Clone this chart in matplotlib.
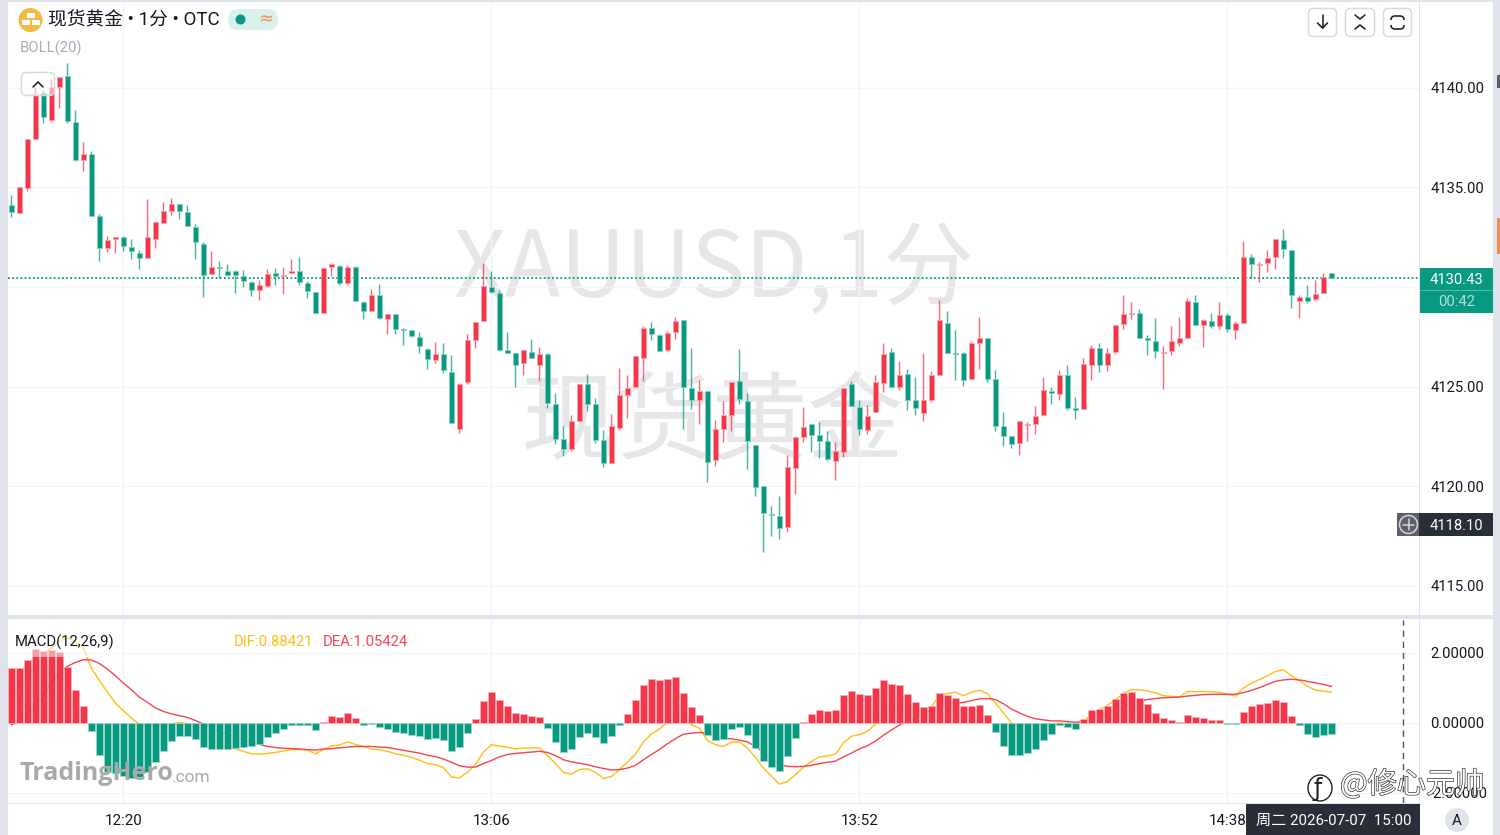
import matplotlib
matplotlib.use("Agg")
import matplotlib.pyplot as plt
import matplotlib.patheffects as pe
from matplotlib.patches import Rectangle, Circle, FancyBboxPatch, Ellipse

plt.rcParams['font.family'] = ['Roboto', 'Noto Sans CJK SC', 'DejaVu Sans']

# ---------- data ----------
opens = [
4134.09,4133.72,4134.97,4137.44,4139.75,4138.38,4140.05,4140.57,4138.26,4136.37,
4136.65,4133.57,4131.93,4132.38,4132.53,4131.99,4131.71,4131.46,4132.38,4133.22,
4133.80,4134.14,4133.74,4133.03,4132.16,4130.64,4131.02,4130.80,4130.79,4130.54,
4130.25,4129.83,4130.03,4130.69,4130.54,4130.70,4130.80,4130.18,4129.72,4128.71,
4131.00,4131.07,4130.20,4131.00,4129.25,4128.78,4129.57,4128.38,4128.65,4127.89,
4127.83,4127.51,4126.87,4126.34,4126.61,4125.74,4122.89,4125.22,4127.32,4128.28,
4130.00,4129.70,4126.84,4126.66,4126.17,4126.74,4126.10,4126.62,4124.11,4122.34,
4121.84,4123.28,4125.13,4124.13,4122.33,4121.17,4122.91,4124.57,4125.00,4126.41,
4127.93,4127.59,4126.81,4127.74,4128.34,4124.93,4124.33,4124.77,4121.29,4122.88,
4123.56,4125.30,4124.25,4122.06,4120.03,4118.60,4118.48,4117.93,4120.90,4122.48,
4123.14,4122.56,4122.26,4121.25,4121.72,4125.12,4123.96,4122.84,4123.70,4125.20,
4126.71,4125.00,4125.64,4124.33,4123.65,4124.33,4125.60,4128.21,4126.69,4126.67,
4125.37,4127.19,4127.44,4125.37,4123.00,4122.50,4122.18,4123.07,4123.12,4123.58,
4124.78,4124.63,4125.60,4123.90,4123.88,4126.07,4126.95,4126.08,4126.75,4128.12,
4128.65,4128.70,4127.42,4127.28,4126.70,4126.80,4127.20,4127.43,4129.25,4128.10,
4128.30,4128.03,4128.57,4127.85,4128.20,4131.50,4131.12,4131.22,4131.48,4132.37,
4131.83,4129.30,4129.47,4129.37,4129.67,4130.70]
closes = [
4133.75,4134.99,4137.40,4139.70,4138.53,4140.05,4140.54,4138.31,4136.37,4136.65,
4133.57,4131.96,4132.35,4132.50,4132.04,4131.79,4131.47,4132.50,4133.27,4133.79,
4134.15,4133.80,4133.05,4132.24,4130.59,4131.02,4130.97,4130.62,4130.59,4130.28,
4129.83,4130.08,4130.67,4130.57,4130.60,4130.82,4130.23,4129.77,4128.71,4130.96,
4131.17,4130.20,4131.00,4129.30,4128.81,4129.57,4128.44,4128.63,4127.89,4127.84,
4127.54,4127.02,4126.39,4126.62,4125.82,4123.18,4125.15,4127.31,4128.23,4130.03,
4129.73,4126.82,4126.69,4126.07,4126.82,4126.44,4126.61,4124.15,4122.34,4121.84,
4123.26,4125.13,4124.13,4122.33,4121.17,4123.01,4124.57,4124.90,4126.51,4127.94,
4127.66,4126.79,4127.69,4128.31,4125.00,4124.33,4124.75,4121.20,4122.89,4123.55,
4125.25,4124.36,4122.24,4119.93,4118.65,4118.55,4117.88,4120.94,4122.44,4122.96,
4122.59,4122.27,4121.35,4121.74,4124.92,4124.00,4122.86,4123.51,4125.25,4126.62,
4124.97,4125.60,4124.33,4123.93,4124.31,4125.57,4128.36,4126.66,4126.64,4125.35,
4127.19,4127.42,4125.40,4123.04,4122.53,4122.10,4123.28,4123.12,4123.53,4124.80,
4124.67,4125.60,4123.90,4123.83,4126.15,4126.95,4126.10,4126.70,4128.10,4128.63,
4128.70,4127.45,4127.33,4126.78,4126.75,4127.27,4127.42,4129.28,4128.07,4128.32,
4128.02,4128.60,4127.90,4128.20,4131.52,4131.13,4131.17,4131.47,4132.38,4131.88,
4129.57,4129.50,4129.30,4129.63,4130.50,4130.43]
highs = [
4134.59,4135.03,4137.44,4140.03,4139.88,4140.42,4140.54,4141.26,4138.86,4137.29,
4136.82,4133.64,4132.58,4132.50,4132.55,4132.41,4131.84,4134.39,4133.32,4134.27,
4134.47,4134.14,4134.10,4133.17,4132.26,4131.79,4131.32,4131.16,4130.87,4130.87,
4130.28,4130.37,4130.90,4130.97,4131.00,4131.41,4131.51,4130.28,4129.75,4130.96,
4131.21,4131.10,4131.12,4131.04,4129.28,4129.90,4130.15,4128.66,4128.66,4127.94,
4127.86,4127.73,4126.92,4127.22,4127.17,4126.56,4125.18,4127.66,4128.24,4131.20,
4130.82,4129.83,4127.76,4126.66,4126.86,4127.36,4126.96,4126.69,4124.68,4123.04,
4123.56,4125.13,4125.65,4124.40,4122.80,4123.60,4125.94,4125.59,4126.51,4128.03,
4128.26,4127.64,4127.81,4128.51,4128.34,4126.91,4125.33,4124.77,4123.31,4124.26,
4125.25,4126.87,4124.65,4122.06,4120.03,4118.98,4119.50,4121.56,4122.49,4123.98,
4123.14,4123.23,4122.76,4122.19,4124.92,4125.28,4124.30,4124.06,4125.59,4127.17,
4126.91,4126.29,4125.90,4125.50,4126.67,4125.79,4129.36,4128.81,4127.83,4126.74,
4127.26,4128.48,4127.44,4125.85,4123.70,4122.50,4123.28,4123.20,4124.00,4125.50,
4124.98,4125.82,4126.07,4124.45,4126.42,4127.07,4127.17,4126.92,4128.10,4129.60,
4129.22,4128.90,4127.60,4128.42,4127.02,4128.02,4128.48,4129.45,4129.57,4128.37,
4128.67,4129.25,4128.67,4128.27,4132.30,4131.65,4131.25,4131.87,4132.38,4132.92,
4131.83,4129.60,4130.12,4130.33,4130.70,4130.70]
lows = [
4133.50,4133.69,4134.81,4137.44,4138.24,4138.27,4138.96,4138.24,4136.32,4135.81,
4133.57,4131.32,4131.74,4131.68,4131.79,4131.41,4130.89,4131.46,4131.96,4133.22,
4133.62,4133.42,4133.05,4131.41,4129.48,4130.64,4130.45,4130.54,4129.70,4129.98,
4129.56,4129.33,4130.00,4130.12,4129.63,4130.70,4130.12,4129.43,4128.71,4128.71,
4130.57,4130.08,4130.12,4129.30,4128.41,4128.78,4128.39,4127.64,4127.63,4127.07,
4127.48,4126.69,4125.90,4126.17,4125.69,4123.18,4122.68,4125.13,4126.91,4128.28,
4129.70,4126.77,4126.66,4124.98,4125.59,4126.41,4125.27,4123.91,4122.11,4121.51,
4121.77,4123.28,4123.75,4122.16,4120.95,4121.17,4122.81,4123.40,4125.00,4125.30,
4127.32,4126.76,4126.77,4127.37,4122.89,4123.86,4123.13,4120.22,4121.02,4122.22,
4122.78,4124.13,4120.85,4119.48,4116.67,4117.51,4117.34,4117.68,4119.62,4122.22,
4121.72,4121.42,4121.25,4120.30,4121.44,4124.00,4122.58,4122.63,4123.70,4124.73,
4124.90,4124.80,4123.83,4123.58,4123.28,4124.20,4125.60,4126.66,4125.32,4125.02,
4125.37,4125.90,4125.23,4122.78,4122.00,4121.90,4121.55,4122.28,4122.60,4123.58,
4124.10,4124.33,4123.83,4123.37,4123.88,4125.33,4125.73,4125.77,4126.63,4127.87,
4128.37,4127.45,4126.57,4126.45,4124.87,4126.57,4127.02,4127.43,4128.07,4126.97,
4127.93,4127.90,4127.73,4127.38,4128.20,4130.47,4130.27,4130.73,4130.90,4131.43,
4128.92,4128.43,4129.18,4129.28,4129.67,4130.43]
macd_hist = [
1.57,1.57,1.79,2.12,2.07,2.10,2.04,1.59,0.95,0.50,
-0.22,-0.90,-1.41,-1.43,-1.52,-1.58,-1.58,-1.39,-1.10,-0.79,
-0.52,-0.38,-0.38,-0.45,-0.69,-0.74,-0.74,-0.74,-0.70,-0.68,
-0.67,-0.60,-0.41,-0.29,-0.18,-0.06,-0.06,-0.07,-0.21,0.02,
0.20,0.18,0.29,0.13,-0.05,-0.03,-0.12,-0.16,-0.26,-0.29,
-0.33,-0.37,-0.46,-0.44,-0.49,-0.81,-0.68,-0.29,0.12,0.63,
0.89,0.66,0.49,0.29,0.26,0.19,0.18,-0.14,-0.54,-0.82,
-0.74,-0.40,-0.28,-0.39,-0.56,-0.38,-0.06,0.26,0.66,1.08,
1.27,1.22,1.27,1.31,0.86,0.46,0.24,-0.35,-0.49,-0.45,
-0.18,-0.10,-0.33,-0.72,-1.09,-1.26,-1.37,-0.95,-0.43,0.02,
0.26,0.38,0.34,0.37,0.79,0.91,0.82,0.81,1.00,1.24,
1.12,1.09,0.84,0.59,0.46,0.50,0.86,0.81,0.72,0.48,
0.50,0.51,0.23,-0.27,-0.65,-0.92,-0.90,-0.87,-0.74,-0.48,
-0.30,-0.06,-0.11,-0.16,0.11,0.38,0.41,0.50,0.70,0.86,
0.90,0.71,0.53,0.30,0.14,0.08,0.04,0.24,0.18,0.15,
0.09,0.09,-0.03,-0.03,0.32,0.49,0.54,0.58,0.67,0.60,
0.21,-0.07,-0.30,-0.40,-0.35,-0.32]
dif = [
0.81,1.09,1.38,1.76,2.00,2.14,2.36,2.43,2.33,2.14,
1.57,1.21,0.88,0.57,0.35,0.14,-0.05,-0.10,-0.11,-0.10,
-0.03,0.02,-0.03,-0.14,-0.29,-0.46,-0.65,-0.69,-0.74,-0.81,
-0.88,-0.89,-0.87,-0.84,-0.80,-0.76,-0.76,-0.77,-0.88,-0.76,
-0.65,-0.63,-0.54,-0.61,-0.67,-0.74,-0.77,-0.81,-0.88,-0.92,
-0.98,-1.06,-1.16,-1.19,-1.28,-1.54,-1.57,-1.41,-1.19,-0.83,
-0.62,-0.66,-0.69,-0.74,-0.72,-0.71,-0.71,-0.93,-1.16,-1.41,
-1.46,-1.33,-1.31,-1.41,-1.58,-1.53,-1.33,-1.12,-0.89,-0.54,
-0.31,-0.17,0.02,0.14,0.13,-0.05,-0.15,-0.50,-0.62,-0.67,
-0.55,-0.54,-0.71,-0.98,-1.29,-1.52,-1.75,-1.67,-1.48,-1.26,
-1.10,-0.97,-0.94,-0.89,-0.57,-0.38,-0.33,-0.24,-0.03,0.24,
0.40,0.44,0.42,0.40,0.38,0.46,0.78,0.84,0.88,0.78,
0.88,0.94,0.84,0.57,0.29,0.00,-0.11,-0.17,-0.19,-0.14,
-0.07,0.00,-0.03,-0.06,0.04,0.24,0.38,0.50,0.67,0.84,
0.96,0.95,0.92,0.86,0.78,0.76,0.74,0.90,0.90,0.90,
0.89,0.88,0.82,0.77,1.00,1.14,1.24,1.35,1.47,1.52,
1.35,1.21,1.05,0.94,0.91,0.88]
dea = [
-0.05,0.05,0.24,0.46,0.81,1.14,1.43,1.62,1.73,1.81,
1.80,1.70,1.54,1.35,1.14,0.95,0.74,0.59,0.43,0.33,
0.26,0.21,0.16,0.07,-0.03,-0.14,-0.24,-0.33,-0.40,-0.48,
-0.54,-0.61,-0.67,-0.70,-0.72,-0.73,-0.74,-0.76,-0.77,-0.75,
-0.73,-0.71,-0.69,-0.67,-0.67,-0.67,-0.69,-0.70,-0.74,-0.78,
-0.82,-0.86,-0.92,-0.96,-1.03,-1.12,-1.22,-1.26,-1.26,-1.16,
-1.07,-0.97,-0.90,-0.87,-0.85,-0.83,-0.81,-0.84,-0.93,-1.05,
-1.11,-1.15,-1.19,-1.25,-1.30,-1.34,-1.33,-1.29,-1.21,-1.05,
-0.90,-0.76,-0.59,-0.45,-0.32,-0.29,-0.27,-0.29,-0.38,-0.44,
-0.45,-0.49,-0.54,-0.67,-0.83,-1.03,-1.19,-1.24,-1.25,-1.24,
-1.21,-1.16,-1.12,-1.09,-0.97,-0.86,-0.74,-0.65,-0.52,-0.35,
-0.20,-0.06,0.07,0.16,0.27,0.38,0.46,0.52,0.57,0.59,
0.64,0.69,0.70,0.67,0.55,0.40,0.29,0.19,0.12,0.09,
0.06,0.06,0.04,0.02,0.05,0.10,0.19,0.22,0.32,0.46,
0.57,0.62,0.67,0.70,0.72,0.73,0.74,0.77,0.79,0.81,
0.82,0.82,0.82,0.82,0.87,0.93,1.01,1.10,1.19,1.23,
1.25,1.23,1.19,1.15,1.10,1.05]
price_ticks = [4115, 4120, 4125, 4130, 4135, 4140]
macd_ticks = [-2, 0, 2]
time_tick_pos = [14, 60, 106, 152]
time_tick_labels = ['12:20', '13:06', '13:52', '14:38']
last_price = 4130.43
cross_price = 4118.10
crosshair_pos = 174

UP = '#F63648'
DOWN = '#089981'
GRID = '#F2F3F7'
LAV = '#E0E3EB'
W, H = 1500, 835

fig = plt.figure(figsize=(15, 8.35), dpi=100, facecolor='white')

def axpx(x0, y0, x1, y1):
    return fig.add_axes([x0/W, 1-y1/H, (x1-x0)/W, (y1-y0)/H])

ax = axpx(8, 0, 1419, 615)
am = axpx(8, 620, 1419, 803)
ov = fig.add_axes([0, 0, 1, 1], zorder=10)
ov.set_xlim(0, W); ov.set_ylim(H, 0); ov.axis('off'); ov.patch.set_alpha(0)

BASE_X = 11.4
XLIM = ((8-BASE_X)/8, (1419-BASE_X)/8)
PX_PER_UNIT = 19.92
ax.set_xlim(*XLIM)
ax.set_ylim(4140-(615-87.7)/PX_PER_UNIT, 4140+87.7/PX_PER_UNIT)
am.set_xlim(*XLIM)
am.set_ylim(-80/35, 103/35)

for a in (ax, am):
    for s in a.spines.values():
        s.set_visible(False)
    a.set_xticks(time_tick_pos)
    a.grid(True, color=GRID, lw=1.0, zorder=0)
    a.set_axisbelow(True)
    a.yaxis.tick_right()
    a.tick_params(length=0, labelsize=10.6, colors='#131722', pad=8)

ax.set_yticks(price_ticks)
ax.set_yticklabels([f'{v:.2f}' for v in price_ticks])
ax.tick_params(axis='x', labelbottom=False)
am.set_yticks(macd_ticks)
am.set_yticklabels([f'{v:.5f}' for v in macd_ticks])
am.set_xticklabels(time_tick_labels)
am.tick_params(axis='x', pad=8, labelsize=10.9)

# watermark behind candles
wm = '#E6E6E9'
ax.text(714, 271, 'XAUUSD,1分', transform=ov.transData, fontsize=65.4, color=wm,
        ha='center', va='center', zorder=0.5, family=['Noto Sans CJK SC', 'DejaVu Sans'], clip_on=False)
ax.text(713, 424, '现货黄金', transform=ov.transData, fontsize=69, color=wm,
        ha='center', va='center', zorder=0.5, family=['Noto Sans CJK SC'], clip_on=False)

# last price line
ax.axhline(last_price, color=DOWN, lw=1.3, ls=(0, (1.0, 1.3)), zorder=1)

# candles
for i, (o, h, l, c) in enumerate(zip(opens, highs, lows, closes)):
    col = UP if c >= o else DOWN
    edge = '#F9A3AC' if c >= o else '#86CCC0'
    ax.vlines(i, l, h, color=col, lw=1.0, alpha=0.75, zorder=2)
    ax.bar(i, abs(c-o), bottom=min(o, c), width=0.72, color=col, edgecolor=edge, lw=0.6, zorder=3)

# MACD: the two lines sit under the histogram bars
xs = list(range(len(dif)))
am.plot(xs, dif, color='#FFBE12', lw=1.0, zorder=2)
am.plot(xs, dea, color='#F4454F', lw=1.0, zorder=2)
for i, v in enumerate(macd_hist):
    col = UP if v >= 0 else DOWN
    edge = '#F9B5BC' if v >= 0 else '#9ED6CC'
    am.bar(i, v, width=0.8, color=col, edgecolor=edge, lw=0.5, zorder=3)
am.axvline(crosshair_pos, color='#50535E', lw=1.0, ls=(0, (4.5, 3.5)), zorder=4)

# chrome
def rect(x0, y0, x1, y1, c, z=1, **k):
    ov.add_patch(Rectangle((x0, y0), x1-x0, y1-y0, fc=c, ec='none', zorder=z, **k))

rect(0, 0, 8, H, LAV)
rect(0, 0, W, 2, LAV)
rect(1493, 0, W, H, LAV)
rect(8, 615, 1493, 619, LAV)
rect(8, 802.5, 1419, 804, LAV)
rect(1418.5, 0, 1420, 835, LAV)
rect(1497, 75, 1500, 88, '#5D606B', z=2)
rect(1497, 218, 1500, 254, '#F58A4F', z=2)

# header
ov.add_patch(Circle((30.5, 20), 12, fc='#F0BC45', ec='none'))
for bx, by in [(30.5, 15.5), (25.5, 22.5), (35.5, 22.5)]:
    rect(bx-4, by-2.5, bx+4, by+2.5, 'white', z=3)
ov.text(48, 20, '现货黄金 • 1分 • OTC', fontsize=13.5, color='#131722', va='center', ha='left')
ov.add_patch(FancyBboxPatch((228, 9), 50, 21, boxstyle='round,pad=0,rounding_size=10', fc='#DAF0EC', ec='none'))
ov.add_patch(Circle((240.5, 19.5), 5, fc=DOWN, ec='none', zorder=3))
ov.text(266, 19.5, '≈', fontsize=13, color='#F58A4F', ha='center', va='center', zorder=3, family=['DejaVu Sans'])
ov.text(20, 48.5, 'BOLL(20)', fontsize=10.7, color='#A8ABBB', va='center', ha='left')

def button(x0, y0, x1, y1, fc='white', alpha=1.0):
    ov.add_patch(FancyBboxPatch((x0+0.5, y0+0.5), x1-x0-1, y1-y0-1, boxstyle='round,pad=0,rounding_size=5',
                                fc=(1, 1, 1, alpha), ec='#D7D9E0', lw=1.1, zorder=4))

def stroke(xs_, ys_, lw=1.1, c='#131722'):
    ov.plot(xs_, ys_, color=c, lw=lw, zorder=5, solid_capstyle='round', solid_joinstyle='round')

button(21, 72, 55, 96, alpha=0.55)
stroke([33, 38, 43], [87, 82, 87])
button(1308, 8, 1337, 37)
stroke([1322.5, 1322.5], [15, 28]); stroke([1317.5, 1322.5, 1327.5], [23, 28, 23])
button(1345, 8, 1375, 37)
stroke([1355, 1360, 1365], [15, 19, 15]); stroke([1355, 1360, 1365], [29, 25, 29])
button(1383, 8, 1412, 37)
ov.add_patch(FancyBboxPatch((1391, 16), 13, 13, boxstyle='round,pad=0,rounding_size=4', fc='none',
                            ec='#131722', lw=1.1, zorder=5))
rect(1389, 20, 1392, 25, 'white', z=6); rect(1403, 20, 1406, 25, 'white', z=6)

# price labels
rect(1420, 268, 1493, 313, DOWN, z=3)
rect(1420, 290, 1493, 291, '#55B9A8', z=4)
ov.text(1456.5, 280, f'{last_price:.2f}', fontsize=10.6, color='white', ha='center', va='center', zorder=5)
ov.text(1456.5, 302.5, '00:42', fontsize=10.6, color='#B5E0D8', ha='center', va='center', zorder=5)
rect(1397, 513, 1419, 536, '#5D606B', z=3)
rect(1419, 513, 1493, 536, '#2A2E39', z=3)
ov.add_patch(Circle((1408.5, 524.5), 9, fc='none', ec='#D5D6DA', lw=1.1, zorder=5))
stroke([1403, 1414], [524.5, 524.5], c='#D5D6DA'); stroke([1408.5, 1408.5], [519, 530], c='#D5D6DA')
ov.text(1456.5, 525.5, f'{cross_price:.2f}', fontsize=10.6, color='white', ha='center', va='center', zorder=5)

# macd legend with its translucent backing
rect(8, 628, 118, 656.5, 'white', z=1, alpha=0.5)
ov.text(15, 642, 'MACD(12,26,9)', fontsize=10.75, color='#131722', va='center', zorder=5)
ov.text(234, 642, 'DIF:0.88421', fontsize=10.75, color='#FFBE12', va='center', zorder=5)
ov.text(323, 642, 'DEA:1.05424', fontsize=10.75, color='#F4454F', va='center', zorder=5)

# time label
rect(1246, 804, 1420, 835, '#2A2E39', z=3)
ov.text(1333.5, 821, '周二 2026-07-07  15:00', fontsize=10.9, color='white', ha='center', va='center', zorder=5)
ov.add_patch(Circle((1457, 820), 12, fc=LAV, ec='none', zorder=3))
ov.text(1457, 821, 'A', fontsize=10.9, color='#131722', ha='center', va='center', zorder=5)

# logos
ov.text(20, 774, 'TradingHero', fontsize=18, fontweight='bold', color='#A9A9A9',
        va='center', ha='left', zorder=6, family=['Open Sans'])
ov.text(172, 777, '.com', fontsize=12.5, color='#A9A9A9', va='center', ha='left', zorder=6)
ol = [pe.withStroke(linewidth=0.9, foreground='#222222')]
ov.text(1340, 785, '@修心元帅', fontsize=21, color='white', ha='left', va='center', zorder=7,
        family=['Noto Sans CJK SC', 'DejaVu Sans'], path_effects=ol)
ov.add_patch(Ellipse((1320, 788), 24, 26, fc='white', ec='#222222', lw=1.0, zorder=7))
ov.text(1318, 789, 'ƒ', fontsize=17, color='#222222', ha='center', va='center', zorder=8, family=['DejaVu Sans'])

fig.savefig('out.png', dpi=100)
